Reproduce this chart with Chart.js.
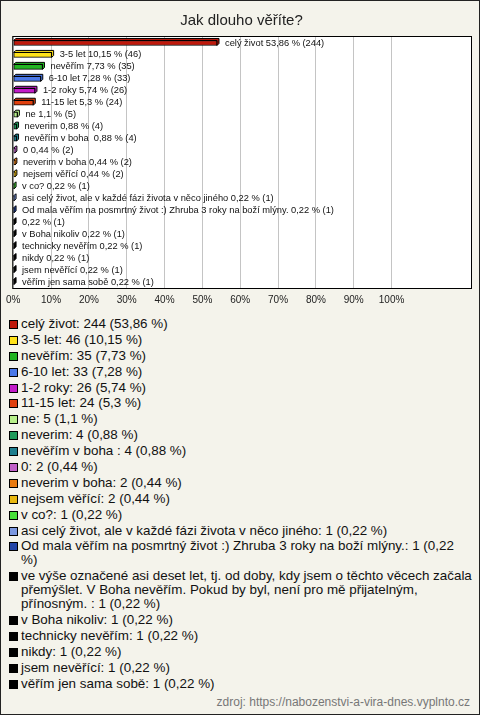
<!DOCTYPE html>
<html>
<head>
<meta charset="utf-8">
<script src="https://cdn.jsdelivr.net/npm/chart.js@4"></script>
<style>
  body { margin: 0; }
  #frame {
    position: relative; width: 480px; height: 715px; box-sizing: border-box;
    border: 1px solid #222; background: #f4f3eb; overflow: hidden;
    font-family: 'Liberation Sans', Arial, sans-serif;
  }
  #chartBox { position: absolute; left: -1px; top: -1px; width: 480px; height: 312px; }
  #legend { position: absolute; left: 7px; top: 316px; width: 464px; font-size: 13.4px; color: #111; }
  .item { display: flex; align-items: flex-start; line-height: 14px; margin-bottom: 1.9px; }
  .mark { flex: none; width: 7px; height: 7px; border: 1px solid #000; margin: 3px 3px 0 1px; }
  #source { position: absolute; right: 9px; top: 694px; font-size: 12px; color: #777; }
</style>
</head>
<body>
<div id="frame">
  <div id="chartBox"><canvas id="chart"></canvas></div>
  <div id="legend"></div>
  <div id="source">zdroj: https://nabozenstvi-a-vira-dnes.vyplnto.cz</div>
</div>
<script>
// --- data ---
const categories = [
  'celý život', '3-5 let', 'nevěřím', '6-10 let', '1-2 roky', '11-15 let', 'ne',
  'neverim', 'nevěřím v boha ', '0', 'neverim v boha', 'nejsem věřící', 'v co?',
  'asi celý život, ale v každé fázi života v něco jiného',
  'Od mala věřím na posmrtný život :) Zhruba 3 roky na boží mlýny.',
  've výše označené asi deset let, tj. od doby, kdy jsem o těchto věcech začala přemýšlet. V Boha nevěřím. Pokud by byl, není pro mě přijatelným, přínosným. ',
  'v Boha nikoliv', 'technicky nevěřím', 'nikdy', 'jsem nevěřící', 'věřím jen sama sobě'
];
const counts = [244, 46, 35, 33, 26, 24, 5, 4, 4, 2, 2, 2, 1, 1, 1, 1, 1, 1, 1, 1, 1];
const percents = [53.86, 10.15, 7.73, 7.28, 5.74, 5.3, 1.1, 0.88, 0.88, 0.44, 0.44, 0.44,
  0.22, 0.22, 0.22, 0.22, 0.22, 0.22, 0.22, 0.22, 0.22];
const colors = [
  '#c0190b', '#ffe21a', '#22b422', '#4a78e8', '#c21cc8', '#e0400e', '#b8f08a',
  '#1f9a5a', '#1f7f8f', '#c060c8', '#e87a10', '#e8b810', '#48e038', '#7c98e0',
  '#2446a8', '#000000', '#000000', '#000000', '#000000', '#000000', '#000000'
];
const tickLabels = [0, 10, 20, 30, 40, 50, 60, 70, 80, 90, 100];

const fmt = v => String(v).replace('.', ',');

// --- 3D bars, white plot area, labels ---
const bar3d = {
  id: 'bar3d',
  beforeDraw(chart) {
    const { ctx, chartArea: a } = chart;
    ctx.save();
    ctx.fillStyle = '#fff';
    ctx.fillRect(a.left, a.top, a.width, a.height);
    ctx.restore();
  },
  beforeDatasetsDraw(chart) {
    const ctx = chart.ctx;
    const d = 2;
    ctx.save();
    ctx.lineWidth = 1;
    ctx.strokeStyle = '#000';
    chart.getDatasetMeta(0).data.forEach((el, i) => {
      const { x, y, base, height } = el.getProps(['x', 'y', 'base', 'height'], true);
      const t = y - height / 2, b = y + height / 2;
      ctx.fillStyle = colors[i];
      ctx.beginPath();
      ctx.moveTo(base, t);
      ctx.lineTo(base + d, t - d);
      ctx.lineTo(x + d, t - d);
      ctx.lineTo(x + d, b - d);
      ctx.lineTo(x, b);
      ctx.lineTo(x, t);
      ctx.closePath();
      ctx.fill();
      ctx.stroke();
    });
    ctx.restore();
  },
  afterDatasetsDraw(chart) {
    const ctx = chart.ctx;
    ctx.save();
    ctx.font = "9.3px 'Liberation Sans', Arial, sans-serif";
    ctx.fillStyle = '#111';
    ctx.textBaseline = 'middle';
    chart.getDatasetMeta(0).data.forEach((el, i) => {
      // very long answers are left out of the bar label
      const name = categories[i].length > 100 ? '' : categories[i] + ' ';
      ctx.fillText(name + fmt(percents[i]) + ' % (' + counts[i] + ')', el.x + 8, el.y);
    });
    ctx.restore();
  },
  afterDraw(chart) {
    const { ctx, chartArea: a } = chart;
    ctx.save();
    ctx.strokeStyle = '#000';
    ctx.lineWidth = 1;
    ctx.strokeRect(a.left - 0.5, a.top - 0.5, a.width + 1, a.height + 1);
    ctx.restore();
  }
};

new Chart(document.getElementById('chart'), {
  type: 'bar',
  data: {
    labels: categories,
    datasets: [{
      data: percents,
      backgroundColor: colors,
      borderColor: '#000',
      borderWidth: 1,
      borderSkipped: false,
      barThickness: 5
    }]
  },
  options: {
    indexAxis: 'y',
    responsive: true,
    maintainAspectRatio: false,
    animation: false,
    layout: { padding: { left: 12, right: 9, top: 0, bottom: 4 } },
    plugins: {
      legend: { display: false },
      tooltip: { enabled: false },
      title: {
        display: true,
        text: 'Jak dlouho věříte?',
        color: '#222',
        font: { family: "'Liberation Sans', Arial, sans-serif", size: 15, weight: 'normal' },
        padding: { top: 12, bottom: 7 }
      }
    },
    scales: {
      x: {
        min: 0,
        max: 121,
        afterBuildTicks: s => { s.ticks = tickLabels.map(v => ({ value: v })); },
        afterFit: s => { s.height = 20; },
        ticks: {
          callback: v => v + '%',
          color: '#222',
          padding: 6,
          maxRotation: 0,
          font: { family: "'Liberation Sans', Arial, sans-serif", size: 10 }
        },
        grid: { color: '#c4c4c4', drawTicks: false },
        border: { display: false }
      },
      y: { display: false }
    }
  },
  plugins: [bar3d]
});

// --- legend ---
const legendEl = document.getElementById('legend');
categories.forEach((c, i) => {
  const row = document.createElement('div');
  row.className = 'item';
  row.innerHTML = `<span class="mark" style="background:${colors[i]}"></span><span>${c}: ${counts[i]} (${fmt(percents[i])} %)</span>`;
  legendEl.appendChild(row);
});
</script>
</body>
</html>
